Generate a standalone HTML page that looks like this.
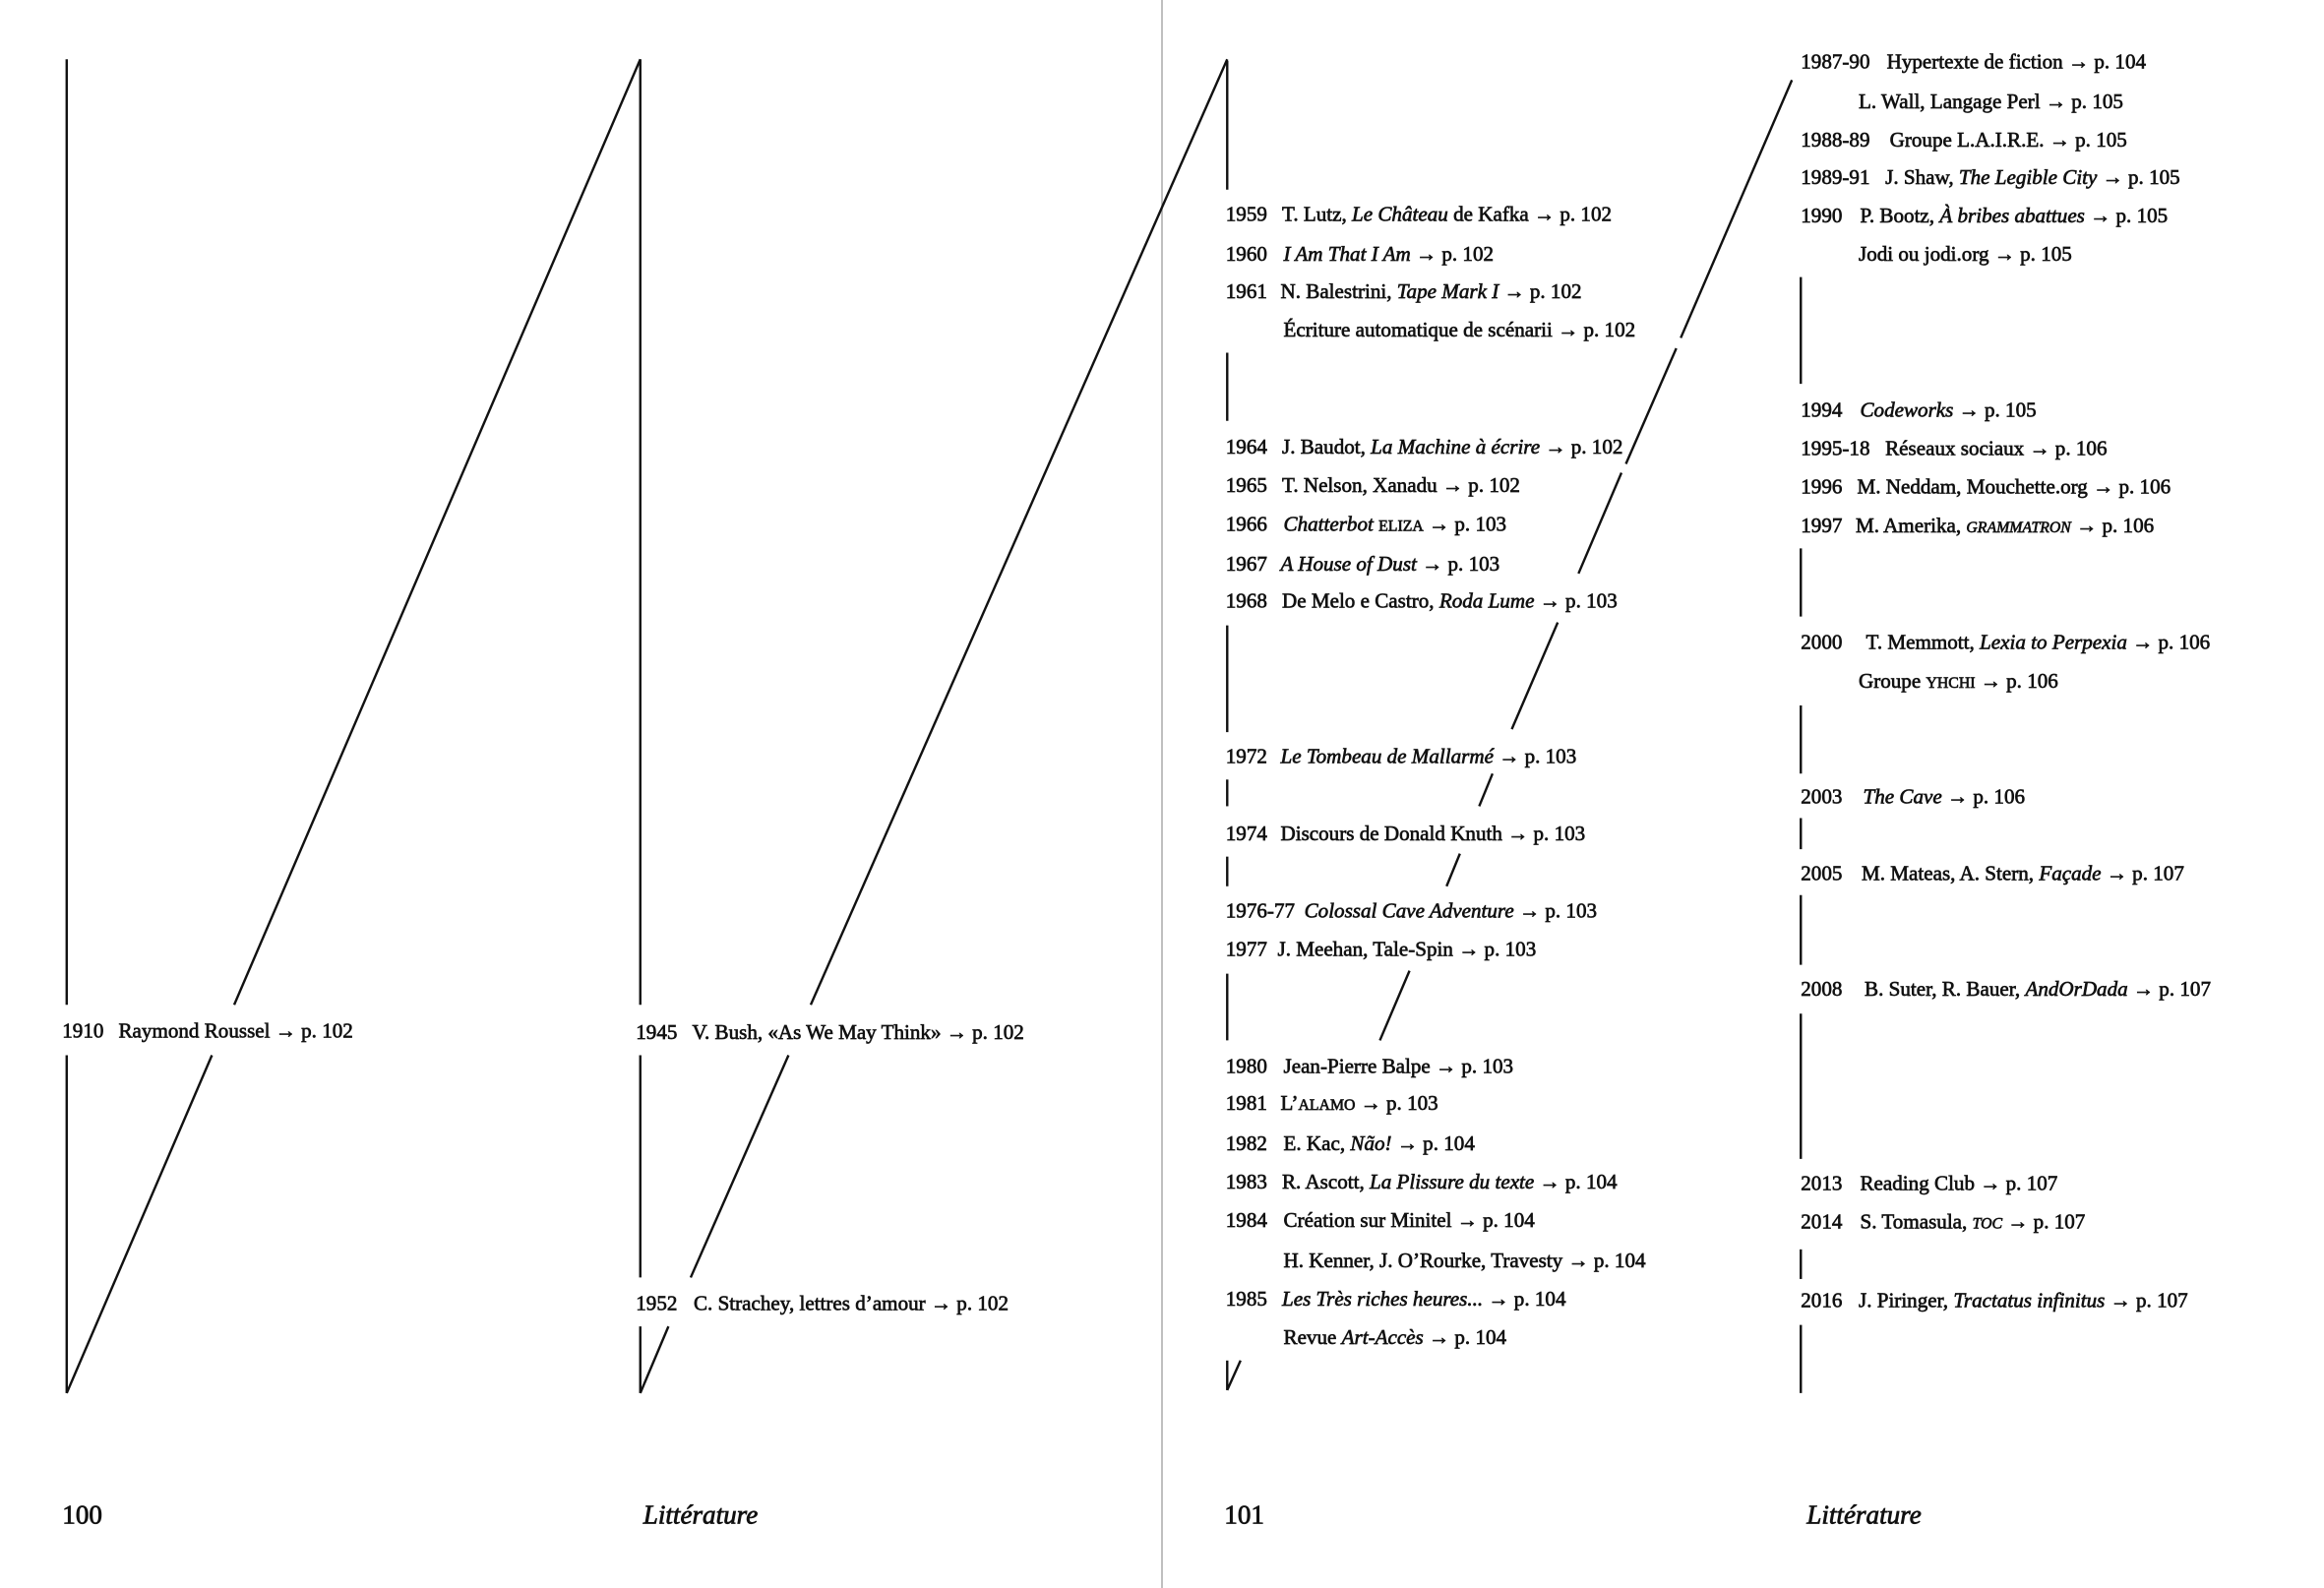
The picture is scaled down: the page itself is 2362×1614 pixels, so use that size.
<!DOCTYPE html>
<html><head><meta charset="utf-8"><style>
html,body{margin:0;padding:0;background:#fff;}
svg{display:block;}
text{font-family:"Liberation Serif",serif;font-size:14px;fill:#111;stroke:#111;stroke-width:0.45px;}
.i{font-style:italic;}
.sc{font-size:10.5px;}
.f{font-size:18px;stroke-width:0.5px;}
</style></head><body>
<svg width="2362" height="1614" viewBox="0 0 1568 1071.5" preserveAspectRatio="none" xmlns="http://www.w3.org/2000/svg">
<line x1="784" y1="0" x2="784" y2="1071.5" stroke="#aaa" stroke-width="1"/>
<g stroke="#111" stroke-width="1.6" fill="none">
<line x1="45" y1="40" x2="45" y2="678"/><line x1="45" y1="712" x2="45" y2="940"/>
<line x1="432" y1="40" x2="158" y2="678"/><line x1="143" y1="712" x2="45" y2="940"/>
<line x1="432" y1="40" x2="432" y2="678"/><line x1="432" y1="712" x2="432" y2="862"/><line x1="432" y1="895" x2="432" y2="940"/>
<line x1="828" y1="40" x2="547" y2="678"/><line x1="532" y1="712" x2="466" y2="862"/><line x1="451" y1="895" x2="432" y2="940"/>
<line x1="828" y1="41" x2="828" y2="128"/>
<line x1="828" y1="238" x2="828" y2="284"/>
<line x1="828" y1="422" x2="828" y2="494"/>
<line x1="828" y1="526" x2="828" y2="544"/>
<line x1="828" y1="578" x2="828" y2="598"/>
<line x1="828" y1="657" x2="828" y2="702"/>
<line x1="828" y1="918" x2="828" y2="938"/>
<line x1="1209" y1="54" x2="1134" y2="228"/>
<line x1="1131" y1="235" x2="1097" y2="313"/>
<line x1="1094" y1="319" x2="1065" y2="387"/>
<line x1="1051" y1="420" x2="1020" y2="492"/>
<line x1="1007" y1="522" x2="998" y2="544"/>
<line x1="985" y1="576" x2="976" y2="598"/>
<line x1="951" y1="655" x2="931" y2="702"/>
<line x1="837" y1="918" x2="828" y2="938"/>
<line x1="1215" y1="187" x2="1215" y2="259"/>
<line x1="1215" y1="370" x2="1215" y2="416"/>
<line x1="1215" y1="476" x2="1215" y2="522"/>
<line x1="1215" y1="552" x2="1215" y2="573"/>
<line x1="1215" y1="604" x2="1215" y2="651"/>
<line x1="1215" y1="684" x2="1215" y2="782"/>
<line x1="1215" y1="843" x2="1215" y2="863"/>
<line x1="1215" y1="894" x2="1215" y2="940"/>
</g>
<text x="42" y="700">1910</text><text x="80" y="700">Raymond Roussel → p. 102</text>
<text x="429" y="701">1945</text><text x="467" y="701">V. Bush, «As We May Think» → p. 102</text>
<text x="429" y="884">1952</text><text x="468" y="884">C. Strachey, lettres d’amour → p. 102</text>
<text x="827" y="149">1959</text><text x="865" y="149">T. Lutz, <tspan class="i">Le Château</tspan> de Kafka → p. 102</text>
<text x="827" y="176">1960</text><text x="866" y="176"><tspan class="i">I Am That I Am</tspan> → p. 102</text>
<text x="827" y="201">1961</text><text x="864" y="201">N. Balestrini, <tspan class="i">Tape Mark I</tspan> → p. 102</text>
<text x="866" y="227">Écriture automatique de scénarii → p. 102</text>
<text x="827" y="306">1964</text><text x="865" y="306">J. Baudot, <tspan class="i">La Machine à écrire</tspan> → p. 102</text>
<text x="827" y="332">1965</text><text x="865" y="332">T. Nelson, Xanadu → p. 102</text>
<text x="827" y="358">1966</text><text x="866" y="358"><tspan class="i">Chatterbot</tspan> <tspan class="sc">ELIZA</tspan> → p. 103</text>
<text x="827" y="385">1967</text><text x="864" y="385"><tspan class="i">A House of Dust</tspan> → p. 103</text>
<text x="827" y="410">1968</text><text x="865" y="410">De Melo e Castro, <tspan class="i">Roda Lume</tspan> → p. 103</text>
<text x="827" y="515">1972</text><text x="864" y="515"><tspan class="i">Le Tombeau de Mallarmé</tspan> → p. 103</text>
<text x="827" y="567">1974</text><text x="864" y="567">Discours de Donald Knuth → p. 103</text>
<text x="827" y="619">1976-77</text><text x="880" y="619"><tspan class="i">Colossal Cave Adventure</tspan> → p. 103</text>
<text x="827" y="645">1977</text><text x="862" y="645">J. Meehan, Tale-Spin → p. 103</text>
<text x="827" y="724">1980</text><text x="866" y="724">Jean-Pierre Balpe → p. 103</text>
<text x="827" y="749">1981</text><text x="864" y="749">L’<tspan class="sc">ALAMO</tspan> → p. 103</text>
<text x="827" y="776">1982</text><text x="866" y="776">E. Kac, <tspan class="i">Não!</tspan> → p. 104</text>
<text x="827" y="802">1983</text><text x="865" y="802">R. Ascott, <tspan class="i">La Plissure du texte</tspan> → p. 104</text>
<text x="827" y="828">1984</text><text x="866" y="828">Création sur Minitel → p. 104</text>
<text x="866" y="855">H. Kenner, J. O’Rourke, Travesty → p. 104</text>
<text x="827" y="881">1985</text><text x="865" y="881"><tspan class="i">Les Très riches heures...</tspan> → p. 104</text>
<text x="866" y="907">Revue <tspan class="i">Art-Accès</tspan> → p. 104</text>
<text x="1215" y="46">1987-90</text><text x="1273" y="46">Hypertexte de fiction → p. 104</text>
<text x="1254" y="73">L. Wall, Langage Perl → p. 105</text>
<text x="1215" y="99">1988-89</text><text x="1275" y="99">Groupe L.A.I.R.E. → p. 105</text>
<text x="1215" y="124">1989-91</text><text x="1272" y="124">J. Shaw, <tspan class="i">The Legible City</tspan> → p. 105</text>
<text x="1215" y="150">1990</text><text x="1255" y="150">P. Bootz, <tspan class="i">À bribes abattues</tspan> → p. 105</text>
<text x="1254" y="176">Jodi ou jodi.org → p. 105</text>
<text x="1215" y="281">1994</text><text x="1255" y="281"><tspan class="i">Codeworks</tspan> → p. 105</text>
<text x="1215" y="307">1995-18</text><text x="1272" y="307">Réseaux sociaux → p. 106</text>
<text x="1215" y="333">1996</text><text x="1253" y="333">M. Neddam, Mouchette.org → p. 106</text>
<text x="1215" y="359">1997</text><text x="1252" y="359">M. Amerika, <tspan class="sc i">GRAMMATRON</tspan> → p. 106</text>
<text x="1215" y="438">2000</text><text x="1259" y="438">T. Memmott, <tspan class="i">Lexia to Perpexia</tspan> → p. 106</text>
<text x="1254" y="464">Groupe <tspan class="sc">YHCHI</tspan> → p. 106</text>
<text x="1215" y="542">2003</text><text x="1257" y="542"><tspan class="i">The Cave</tspan> → p. 106</text>
<text x="1215" y="594">2005</text><text x="1256" y="594">M. Mateas, A. Stern, <tspan class="i">Façade</tspan> → p. 107</text>
<text x="1215" y="672">2008</text><text x="1258" y="672">B. Suter, R. Bauer, <tspan class="i">AndOrDada</tspan> → p. 107</text>
<text x="1215" y="803">2013</text><text x="1255" y="803">Reading Club → p. 107</text>
<text x="1215" y="829">2014</text><text x="1255" y="829">S. Tomasula, <tspan class="sc i">TOC</tspan> → p. 107</text>
<text x="1215" y="882">2016</text><text x="1254" y="882">J. Piringer, <tspan class="i">Tractatus infinitus</tspan> → p. 107</text>
<text class="f" x="42" y="1028">100</text>
<text class="f i" x="434" y="1028">Littérature</text>
<text class="f" x="826" y="1028">101</text>
<text class="f i" x="1219" y="1028">Littérature</text>
</svg>
</body></html>
